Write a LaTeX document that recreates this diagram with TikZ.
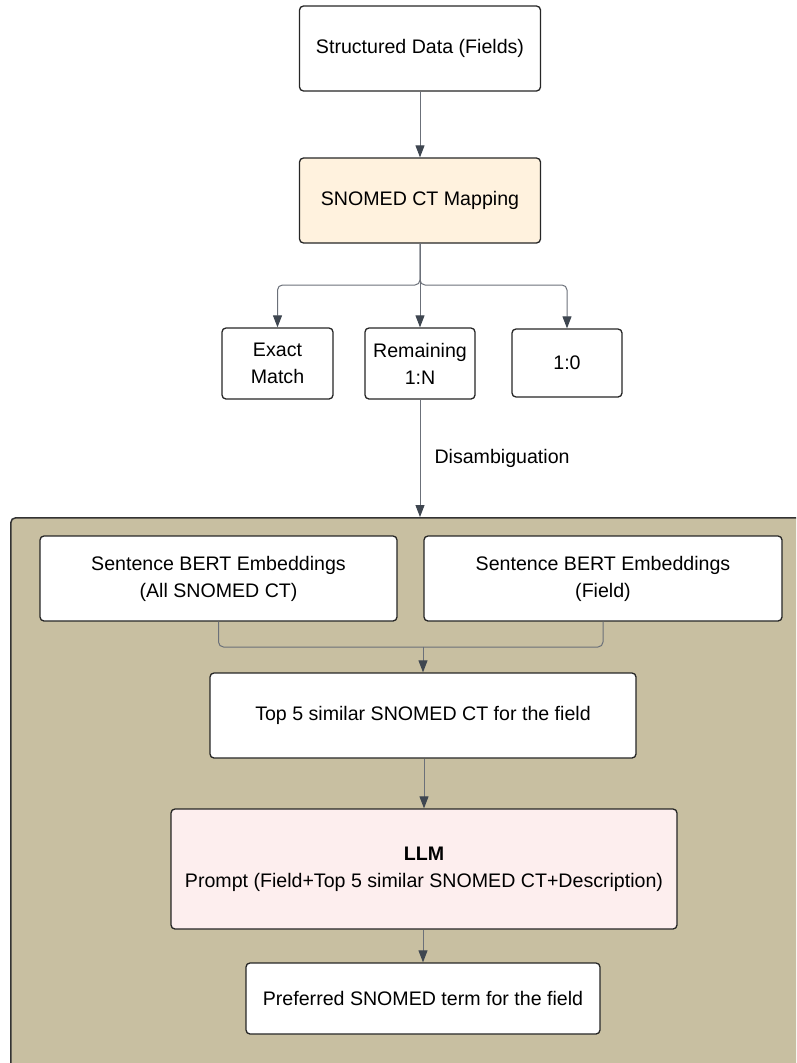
\documentclass[tikz,border=0pt]{standalone}
\usepackage{fontspec}
\setmainfont{Liberation Sans}
\usetikzlibrary{arrows.meta}

\definecolor{linegray}{HTML}{6B7079}
\definecolor{tipgray}{HTML}{3E4650}
\definecolor{mapfill}{HTML}{FFF2DE}
\definecolor{llmfill}{HTML}{FDEEEE}
\definecolor{panelfill}{HTML}{C8BFA1}

\tikzset{
  box/.style={draw=black!85, line width=1.3pt, rounded corners=4pt, fill=white,
    align=center, inner sep=0pt, font=\fontsize{19.6}{27}\selectfont},
  flow/.style={draw=linegray, line width=1pt, rounded corners=5pt,
    -{Triangle[width=9pt,length=12pt,color=tipgray]}},
  mergeline/.style={draw=linegray, line width=1pt, rounded corners=5pt}
}

\begin{document}
\begin{tikzpicture}[x=1pt, y=-1pt]
      \useasboundingbox (0,0) rectangle (796,1063);
      \clip (0,0) rectangle (796,1063);

      % upper part
      \node[box, minimum width=241pt, minimum height=85pt] (data) at (420,48.5) {Structured Data (Fields)};
      \node[box, fill=mapfill, minimum width=241pt, minimum height=85pt] (mapping) at (420,200.5) {SNOMED CT Mapping};
      \node[box, minimum width=111pt, minimum height=71pt] (exact) at (277.5,363.5) {Exact\\Match};
      \node[box, minimum width=110pt, minimum height=71pt] (remaining) at (420,363.5) {Remaining\\1:N};
      \node[box, minimum width=110pt, minimum height=68pt] (zero) at (567,363) {1:0};
      \coordinate (split) at (420,285);

      \draw[flow] (data) -- (mapping);
      \draw[flow] (mapping.south) -- (split) -| (exact.north);
      \draw[flow] (mapping.south) -- (split) -| (zero.north);
      \draw[flow] (mapping) -- (remaining);

      % disambiguation panel
      \node[draw=black!80, line width=1.5pt, rounded corners=5pt, fill=panelfill,
            minimum width=820pt, minimum height=600pt, anchor=north west, inner sep=0pt] (panel) at (10,517) {};
      \draw[flow] (remaining) -- node[anchor=west, xshift=14pt, inner sep=0pt, font=\fontsize{19.6}{27}\selectfont]{Disambiguation} (remaining |- panel.north);

      \node[box, minimum width=357pt, minimum height=85pt] (bertall) at (218.5,578.5) {Sentence BERT Embeddings\\(All SNOMED CT)};
      \node[box, minimum width=358pt, minimum height=85pt] (bertfield) at (603,578.5) {Sentence BERT Embeddings\\(Field)};
      \node[box, minimum width=426pt, minimum height=85pt] (topfive) at (423,715.5) {Top 5 similar SNOMED CT for the field};
      \node[box, fill=llmfill, minimum width=506pt, minimum height=120pt] (llm) at (424,869) {\textbf{LLM}\\Prompt (Field+Top 5 similar SNOMED CT+Description)};
      \node[box, minimum width=354pt, minimum height=71pt] (preferred) at (423,998.5) {Preferred SNOMED term for the field};
      \coordinate (merge) at (423,647);

      \draw[mergeline] (bertall.south) |- (merge);
      \draw[mergeline] (bertfield.south) |- (merge);
      \draw[flow] (merge) -- (topfive.north);
      \draw[flow] (topfive.south -| llm.north) -- (llm.north);
      \draw[flow] (llm.south -| preferred.north) -- (preferred.north);
\end{tikzpicture}
\end{document}
